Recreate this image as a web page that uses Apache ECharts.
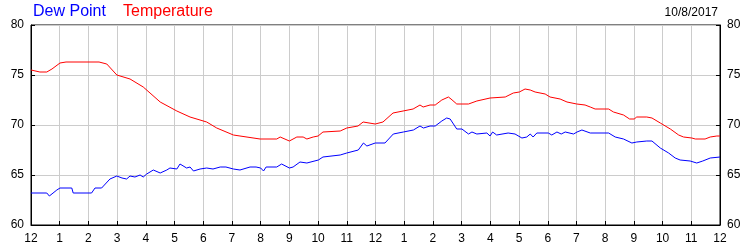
<!DOCTYPE html>
<html><head><meta charset="utf-8">
<script src="https://cdn.jsdelivr.net/npm/echarts@6/dist/echarts.min.js"></script>
<style>html,body{margin:0;padding:0;background:#fff}#c{width:750px;height:250px}</style>
</head><body><div id="c"></div>
<script>
const hourLabels = ['12','1','2','3','4','5','6','7','8','9','10','11','12','1','2','3','4','5','6','7','8','9','10','11','12'];
const yTicks = [60, 65, 70, 75, 80];
const dateText = '10/8/2017';
const temperature = [
[0,75.5],[0.31,75.3],[0.55,75.3],[0.73,75.6],[1.01,76.2],[1.22,76.3],[2.37,76.3],[2.64,76.1],[2.99,75.0],[3.45,74.6],[3.91,73.8],[4.5,72.3],[5.08,71.4],[5.54,70.8],[6.12,70.3],[6.47,69.7],[7.05,69.0],[7.28,68.9],[7.98,68.6],[8.56,68.6],[8.68,68.8],[9.0,68.4],[9.26,68.8],[9.48,68.8],[9.61,68.6],[9.83,68.8],[10.0,68.9],[10.17,69.3],[10.77,69.4],[11.0,69.7],[11.39,69.9],[11.57,70.3],[11.99,70.1],[12.26,70.3],[12.61,71.2],[12.96,71.4],[13.31,71.6],[13.55,72.0],[13.66,71.8],[13.9,72.0],[14.08,72.0],[14.31,72.5],[14.54,72.8],[14.63,72.6],[14.83,72.1],[15.24,72.1],[15.53,72.4],[15.99,72.7],[16.52,72.8],[16.8,73.2],[17.01,73.3],[17.21,73.6],[17.39,73.5],[17.56,73.3],[17.91,73.1],[18.08,72.8],[18.43,72.6],[18.67,72.3],[19.01,72.1],[19.3,72.0],[19.48,71.8],[19.65,71.6],[20.12,71.6],[20.29,71.3],[20.64,71.0],[20.85,70.6],[21.01,70.6],[21.1,70.8],[21.45,70.8],[21.63,70.7],[21.92,70.2],[22.27,69.6],[22.56,69.0],[22.73,68.8],[23.02,68.7],[23.14,68.6],[23.48,68.6],[23.66,68.8],[23.89,68.9],[24,68.9]
];
const dewPoint = [
[0,63.2],[0.55,63.2],[0.64,62.9],[0.9,63.5],[1.01,63.7],[1.42,63.7],[1.47,63.2],[2.11,63.2],[2.23,63.7],[2.46,63.7],[2.75,64.6],[2.99,64.9],[3.17,64.7],[3.33,64.6],[3.45,64.9],[3.62,64.8],[3.8,65.0],[3.91,64.8],[4.03,65.1],[4.26,65.5],[4.5,65.2],[4.73,65.5],[4.84,65.7],[5.08,65.6],[5.19,66.1],[5.42,65.7],[5.54,65.8],[5.66,65.4],[5.89,65.6],[6.12,65.7],[6.34,65.6],[6.59,65.8],[6.79,65.8],[7.05,65.6],[7.28,65.5],[7.63,65.8],[7.84,65.8],[8.0,65.7],[8.1,65.4],[8.19,65.8],[8.56,65.8],[8.73,66.1],[9.0,65.7],[9.13,65.8],[9.37,66.3],[9.61,66.2],[10.01,66.5],[10.17,66.8],[10.77,67.0],[11.0,67.2],[11.4,67.5],[11.58,68.2],[11.7,67.9],[11.99,68.2],[12.33,68.2],[12.62,69.1],[12.97,69.3],[13.32,69.5],[13.55,69.9],[13.67,69.7],[13.9,69.9],[14.08,69.9],[14.31,70.4],[14.48,70.7],[14.6,70.6],[14.83,69.6],[15.01,69.6],[15.24,69.1],[15.36,69.3],[15.53,69.1],[15.88,69.2],[15.99,68.9],[16.08,69.3],[16.22,69.0],[16.62,69.2],[16.86,69.1],[17.1,68.7],[17.27,68.8],[17.39,69.1],[17.49,68.8],[17.62,69.2],[18.02,69.2],[18.14,69.0],[18.32,69.3],[18.47,69.1],[18.61,69.3],[18.9,69.1],[19.02,69.3],[19.19,69.5],[19.48,69.2],[20.12,69.2],[20.35,68.8],[20.64,68.6],[20.93,68.2],[21.1,68.3],[21.45,68.4],[21.63,68.4],[21.92,67.7],[22.21,67.2],[22.44,66.7],[22.61,66.5],[22.96,66.4],[23.19,66.2],[23.4,66.4],[23.66,66.7],[24,66.8]
];
const chart = echarts.init(document.getElementById('c'), null, {renderer:'canvas'});
const font = 'Liberation Sans, Arial, sans-serif';
const yAxisBase = {
  type:'value', min:yTicks[0], max:yTicks[yTicks.length-1], interval:5,
  axisLine:{show:true, lineStyle:{color:'#000', width:1}},
  axisTick:{show:true, inside:true, length:4, lineStyle:{color:'#000'}},
  axisLabel:{color:'#000', fontFamily:font, fontSize:12, margin:7}
};
chart.setOption({
  animation:false,
  backgroundColor:'#fff',
  grid:{left:31, right:30, top:25, bottom:25, show:true, borderColor:'#000', borderWidth:1},
  graphic:[
    {type:'text', left:33, top:4, style:{text:'Dew Point', fill:'#0000ff', font:'16px '+font}},
    {type:'text', left:123, top:4, style:{text:'Temperature', fill:'#ff0000', font:'16px '+font}},
    {type:'text', right:32, top:7, style:{text:dateText, fill:'#000', font:'12px '+font}}
  ],
  xAxis:{
    type:'value', min:0, max:24, interval:1,
    axisLine:{show:true, lineStyle:{color:'#000', width:1}},
    axisTick:{show:true, inside:true, length:4, lineStyle:{color:'#000'}},
    axisLabel:{color:'#000', fontFamily:font, fontSize:12, margin:8, formatter:v=>hourLabels[Math.round(v)]},
    splitLine:{show:true, lineStyle:{color:'#cccccc', width:1}}
  },
  yAxis:[
    Object.assign({}, yAxisBase, {position:'left', splitLine:{show:true, lineStyle:{color:'#cccccc', width:1}}}),
    Object.assign({}, yAxisBase, {position:'right', splitLine:{show:false}})
  ],
  series:[
    {name:'Temperature', type:'line', data:temperature, showSymbol:false, yAxisIndex:0, lineStyle:{color:'#ff0000', width:1}, itemStyle:{color:'#ff0000'}},
    {name:'Dew Point', type:'line', data:dewPoint, showSymbol:false, yAxisIndex:0, lineStyle:{color:'#0000ff', width:1}, itemStyle:{color:'#0000ff'}}
  ]
});
</script></body></html>
